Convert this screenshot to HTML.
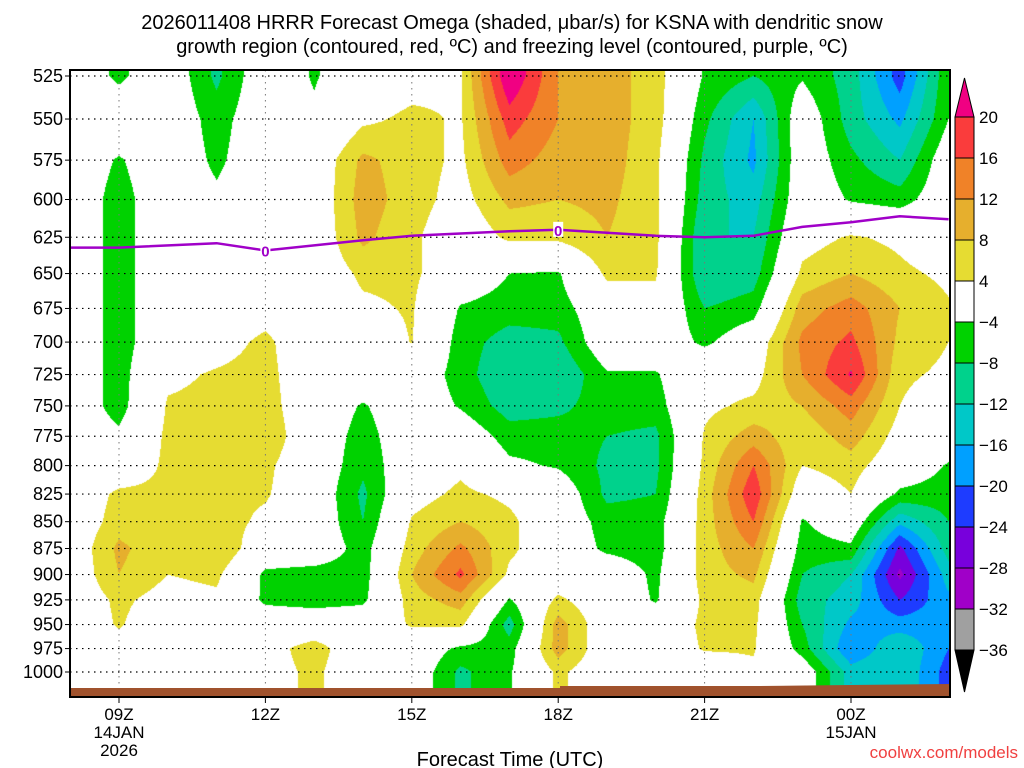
<!DOCTYPE html>
<html><head><meta charset="utf-8">
<style>
html,body{margin:0;padding:0;background:#fff;}
body{width:1024px;height:768px;position:relative;overflow:hidden;font-family:"Liberation Sans",sans-serif;}
svg text{font-family:"Liberation Sans",sans-serif;}
</style></head>
<body>
<svg id="chart" width="1024" height="768" xmlns="http://www.w3.org/2000/svg" style="position:absolute;left:0;top:0">
  <g font-size="20" text-anchor="middle" fill="#000">
    <text x="512" y="29">2026011408 HRRR Forecast Omega (shaded, μbar/s) for KSNA with dendritic snow</text>
    <text x="512" y="53">growth region (contoured, red, ºC) and freezing level (contoured, purple, ºC)</text>
  </g>
  <foreignObject x="70" y="70" width="880" height="627">
    <canvas xmlns="http://www.w3.org/1999/xhtml" id="cv" width="880" height="627"></canvas>
  </foreignObject>
  <g id="grid"></g>
  <path id="ground" fill="#a0522d"/>
  <polyline id="frz" fill="none" stroke="#a000c8" stroke-width="2.5"/>
  <g id="frzlab"></g>
  <rect x="70" y="70" width="880" height="627" fill="none" stroke="#000" stroke-width="2"/>
  <g id="yax" font-size="18" text-anchor="end"></g>
  <g id="xax" font-size="17" text-anchor="middle"></g>
  <text x="510" y="766" font-size="20" text-anchor="middle">Forecast Time (UTC)</text>
  <text x="1018" y="758" font-size="17" text-anchor="end" fill="#f04040">coolwx.com/models</text>
  <g id="cbar" font-size="17"></g>
</svg>
<script>
const hours=[8,9,10,11,12,13,14,15,16,17,18,19,20,21,22,23,24,25,26];
const levels=[525,550,575,600,625,650,675,700,725,750,775,800,825,850,875,900,925,950,975,1000];
// omega values [hour][level]
const omega=[
[0,0,0,0,0,0,0,0,0,0,0,0,0,0,0,0,0,0,0,0],
[-5,0,-4.5,-6,-6,-6,-6,-6,-6,-6,-3,0,5,6,9,8,5,4.5,2,0],
[0,0,0,0,0,0,0,0,3,4.5,5,5,5,5,5,4,2,0,0,0],
[-9,-6,-5,-3,0,0,0,2,4.5,5,5,5,5,6,8,5,3,0,0,0],
[0,0,0,0,0,0,2,5,5.5,6,7,5,4.5,3,0,-5,-5,0,2,2],
[-4.5,-3,0,0,0,0,0,0,0,0,0,0,0,0,0,-6,-6,0,6,5],
[0,3,9,10,9,5,3,0,0,-4.5,-6,-7,-9,-8,-6,-6,-5,0,0,0],
[2,5,6,6,5,5,4.5,4.2,0,0,0,0,2,4.5,6,8,6,4.5,0,0],
[3.5,3.5,3,2,0,0,-4.5,-6,-6,-4.5,0,3,5,8,13,17,10,5,-5,-9],
[24,18,14,9,5,-4,-6,-10,-12,-10,-6,-3,3,5,5,3,-4.5,-10,-6,-4.5],
[12,12,10,8,5,-4.5,-6,-9,-12,-9,-6,-4.5,0,0,0,0,5,10,10,5],
[10,10,10,9,8,5,0,0,-4.5,-6,-8,-9,-9,-6,-5,0,0,0,0,0],
[6,6,5,5,5,4.5,2,0,-4.5,-6,-9,-9,-8,-6,-6,-5,-4.5,0,0,0],
[-4.5,-7,-9,-10,-12,-12,-8,-5,2,3,4.5,5,6,6,6,6,5,5,4.5,0],
[-8,-16,-17,-14,-12,-10,-6,0,2,5,10,16,19,16,12,9,6,5,4.5,3],
[-4.5,0,0,0,2,5,10,13,12,8,5,4,0,-4.5,-6,-8,-10,-8,-6,0],
[-10,-10,-7,-4.5,4.5,8,14,17,20.5,14,10,6,4,0,-5,-12,-14,-17,-20,-14],
[-22,-17,-12,-6,3,5,8,7,5,4,2,0,-5,-15,-25,-29,-24,-18,-12,-12],
[-4.5,-4,0,0,0,3,4.5,4,3,0,0,-4.5,-6,-8,-10,-14,-17,-18,-20,-22]
];
const frzHours=[8,9,11,12,14,15,17,18,20,21,22,23,24,25,26];
const frzLevels=[632,632,629,634,627,624,621,620,624,625,624,618,615,611,613];
const tickHours=[9,12,15,18,21,24];
const tickLab=[["09Z","14JAN","2026"],["12Z"],["15Z"],["18Z"],["21Z"],["00Z","15JAN"]];
const cbLevels=[20,16,12,8,4,-4,-8,-12,-16,-20,-24,-28,-32,-36];
const cbColors=["#f00082","#fa3c3c","#f08228","#e6af2d","#e6dc32","#ffffff","#00d200","#00d28c","#00c8c8","#00a0ff","#1e3cff","#7800dc","#a000c8","#a0a0a0","#000000"];

const X0=70,X1=950,Y0=70,YB=697;
function xOf(h){return 119+(h-9)*48.8;}
function hOf(x){return 9+(x-119)/48.8;}
const L525=Math.log(525),LR=Math.log(1000)-L525;
function yOf(p){return 76+(Math.log(p)-L525)/LR*596;}
function pOf(y){return Math.exp(L525+(y-76)/596*LR);}
function colorFor(v){
  for(let i=0;i<cbLevels.length;i++){ if(v>cbLevels[i]) return cbColors[i]; }
  return cbColors[cbColors.length-1];
}
function rgb(hex){return [parseInt(hex.substr(1,2),16),parseInt(hex.substr(3,2),16),parseInt(hex.substr(5,2),16)];}
const cv=document.getElementById('cv');const ctx=cv.getContext('2d');
const img=ctx.createImageData(880,627);
for(let py=0;py<627;py++){
  const p=pOf(py+Y0+0.5);
  let r=(p-525)/25; r=Math.max(0,Math.min(levels.length-1,r));
  const r0=Math.min(Math.floor(r),levels.length-2), fr=r-r0;
  for(let px=0;px<880;px++){
    let c=hOf(px+X0+0.5)-hours[0]; c=Math.max(0,Math.min(hours.length-1,c));
    const c0=Math.min(Math.floor(c),hours.length-2), fc=c-c0;
    const v=omega[c0][r0]*(1-fc)*(1-fr)+omega[c0+1][r0]*fc*(1-fr)+omega[c0][r0+1]*(1-fc)*fr+omega[c0+1][r0+1]*fc*fr;
    const col=rgb(colorFor(v));const k=(py*880+px)*4;
    img.data[k]=col[0];img.data[k+1]=col[1];img.data[k+2]=col[2];img.data[k+3]=255;
  }
}
ctx.putImageData(img,0,0);
const NS='http://www.w3.org/2000/svg';
function mk(tag,attrs,parent){const e=document.createElementNS(NS,tag);for(const k in attrs)e.setAttribute(k,attrs[k]);parent.appendChild(e);return e;}
const grid=document.getElementById('grid'),yax=document.getElementById('yax');
levels.forEach(lv=>{
  const y=yOf(lv);
  const l=mk('line',{x1:X0,x2:X1,y1:y,y2:y,stroke:'#000','stroke-width':1.2,'stroke-dasharray':'1.5,4.5'},grid);
  
  
  const t=mk('text',{x:63,y:y+6},yax);t.textContent=lv;
  
  
  mk('line',{x1:X0-5,x2:X0,y1:y,y2:y,stroke:'#000'},yax);
});
const xax=document.getElementById('xax');
tickHours.forEach((h,i)=>{
  const x=xOf(h);
  const l=mk('line',{x1:x,x2:x,y1:Y0,y2:YB,stroke:'#777','stroke-width':1,'stroke-dasharray':'1.5,4.5'},grid);
  
  
  mk('line',{x1:x,x2:x,y1:YB,y2:YB+6,stroke:'#000'},xax);
  tickLab[i].forEach((s,j)=>{const t=mk('text',{x:x,y:720+j*18},xax);t.textContent=s;
    
    });
});
document.getElementById('ground').setAttribute('d','M70,688 L560,688 L560,686 L760,686 L850,685 L950,684 L950,697 L70,697 Z');
document.getElementById('frz').setAttribute('points',frzHours.map((h,i)=>xOf(h).toFixed(1)+','+yOf(frzLevels[i]).toFixed(1)).join(' '));
const fl=document.getElementById('frzlab');
[12,18].forEach(h=>{
  let i=frzHours.indexOf(h);const x=xOf(h),y=yOf(frzLevels[i]);
  mk('rect',{x:x-5,y:y-8,width:10,height:15,fill:'#fff'},fl);
  const t=mk('text',{x:x,y:y+6,'font-size':15,'text-anchor':'middle',fill:'#a000c8','font-weight':'bold'},fl);t.textContent='0';
  
  
});
const cb=document.getElementById('cbar');
const CBX=955,CBW=19,CBT=117,CBS=41;
mk('polygon',{points:`${CBX},${CBT} ${CBX+CBW},${CBT} ${CBX+CBW/2},78`,fill:cbColors[0],stroke:'#000'},cb);
for(let i=0;i<cbLevels.length-1;i++){
  const r=mk('rect',{x:CBX,y:CBT+i*CBS,width:CBW,height:CBS,fill:cbColors[i+1],stroke:'#000','stroke-width':1},cb);
  
  
}
const cbBot=CBT+(cbLevels.length-1)*CBS;
mk('polygon',{points:`${CBX},${cbBot} ${CBX+CBW},${cbBot} ${CBX+CBW/2},692`,fill:'#000',stroke:'#000'},cb);
cbLevels.forEach((v,i)=>{
  const t=mk('text',{x:979,y:CBT+i*CBS+6},cb);t.textContent=(v<0?'\u2212'+(-v):v);
  
  
});
</script>
</body></html>
